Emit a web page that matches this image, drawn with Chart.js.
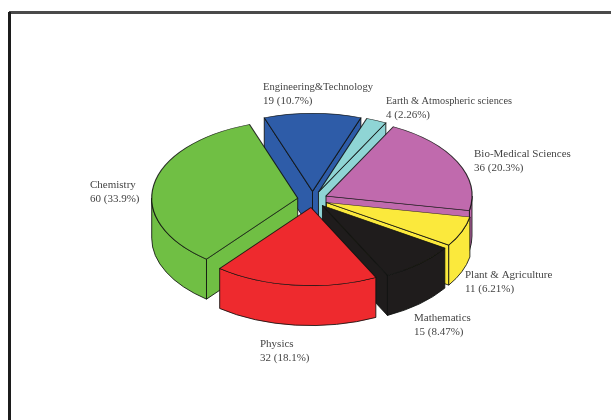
<!DOCTYPE html>
<html>
<head>
<meta charset="utf-8">
<style>
html,body{margin:0;padding:0;background:#fff;overflow:hidden}
#wrap{position:relative;width:611px;height:420px}
canvas{display:block;filter:blur(0.45px)}
</style>
<script src="https://cdn.jsdelivr.net/npm/chart.js@4"></script>
</head>
<body>
<div id="wrap"><canvas id="c" width="611" height="420"></canvas></div>
<script>
const categories = ["Engineering&Technology","Earth & Atmospheric sciences","Bio-Medical Sciences","Plant & Agriculture","Mathematics","Physics","Chemistry"];
const counts = [19,4,36,11,15,32,60];
const shares = ["19 (10.7%)","4 (2.26%)","36 (20.3%)","11 (6.21%)","15 (8.47%)","32 (18.1%)","60 (33.9%)"];
const colors = ["#2e5ca8","#8fd5d5","#c06aad","#fbe93c","#1f1c1c","#ee2a2e","#70bf44"];
const labelX = [263,386,474,465,414,260,90];
const labelY = [87,101,154,275,318,344,185];
const labelW = [110,126,99,88,57,34,47];

const SQUASH = 0.535, DEPTH = 40, CX = 312.5, CY = 199.5, EXPLODE = 15;
const EDGE = "rgba(15,18,15,0.85)";

function project(ctx, el){
  ctx.translate(CX, CY);
  ctx.scale(1, SQUASH);
  ctx.translate(-el.x, -el.y);
}
const pie3d = {
  id:"pie3d",
  beforeDraw(chart){
    const ctx = chart.ctx;
    ctx.save();
    ctx.fillStyle = "#fff";
    ctx.fillRect(0,0,chart.width,chart.height);
    ctx.fillStyle = "#4a4a4a";
    ctx.fillRect(9,11,chart.width-9,3);
    ctx.fillStyle = "#1c1c1c";
    ctx.fillRect(8,12,3,chart.height-12);
    ctx.restore();
  },
  beforeDatasetDraw(chart){
    const ctx = chart.ctx;
    const arcs = chart.getDatasetMeta(0).data;
    const d = DEPTH / SQUASH;
    const shift = a => {
      const mid = (a.startAngle+a.endAngle)/2;
      return [Math.cos(mid)*EXPLODE, Math.sin(mid)*EXPLODE];
    };
    const order = arcs.map((a,i)=>i).sort((p,q)=>{
      const m = a => Math.sin((a.startAngle+a.endAngle)/2);
      return m(arcs[p]) - m(arcs[q]);
    });
    ctx.save();
    ctx.lineJoin = "round";
    order.forEach(i=>{
      const a = arcs[i];
      const [sx,sy] = shift(a);
      const ox = a.x + sx, oy = a.y + sy;
      const R = a.outerRadius;
      const wall = build => {
        ctx.save();
        project(ctx,a);
        ctx.beginPath();
        build();
        ctx.closePath();
        ctx.restore();
        ctx.fillStyle = colors[i];
        ctx.strokeStyle = EDGE;
        ctx.lineWidth = 1;
        ctx.fill();
        ctx.stroke();
      };
      const radial = ang => wall(()=>{
        const ex = ox+Math.cos(ang)*R, ey = oy+Math.sin(ang)*R;
        ctx.moveTo(ox,oy); ctx.lineTo(ex,ey);
        ctx.lineTo(ex,ey+d); ctx.lineTo(ox,oy+d);
      });
      if (Math.cos(a.startAngle) < 0) radial(a.startAngle);
      if (Math.cos(a.endAngle) > 0) radial(a.endAngle);
      const twoPi = Math.PI*2;
      let s = a.startAngle, e = a.endAngle;
      const k = Math.floor(s/twoPi);
      s -= k*twoPi; e -= k*twoPi;
      [[0,Math.PI],[twoPi,twoPi+Math.PI]].forEach(([lo,hi])=>{
        const s2 = Math.max(s,lo), e2 = Math.min(e,hi);
        if (e2 > s2) wall(()=>{
          ctx.arc(ox,oy,R,s2,e2);
          ctx.arc(ox,oy+d,R,e2,s2,true);
        });
      });
    });
    ctx.restore();
    // slice tops: the library's own arc elements, lifted out of the pie
    arcs.forEach(a=>{
      const [sx,sy] = shift(a);
      ctx.save();
      project(ctx,a);
      ctx.translate(sx,sy);
      a.draw(ctx, chart.chartArea);
      ctx.restore();
    });
    return false;
  },
  afterDatasetsDraw(chart){
    const ctx = chart.ctx;
    ctx.save();
    ctx.font = "11px 'Liberation Serif'";
    ctx.fillStyle = "#444";
    ctx.textBaseline = "middle";
    ctx.textAlign = "left";
    categories.forEach((name,i)=>{
      ctx.fillText(name,labelX[i],labelY[i],labelW[i]);
      ctx.fillText(shares[i],labelX[i],labelY[i]+14);
    });
    ctx.restore();
  }
};
new Chart(document.getElementById("c"),{
  type:"pie",
  data:{labels:categories,datasets:[{data:counts,backgroundColor:colors,borderColor:EDGE,borderWidth:1.2,borderJoinStyle:"round"}]},
  options:{
    responsive:false,animation:false,
    rotation:-19.3,radius:146,
    layout:{padding:0},
    plugins:{legend:{display:false},tooltip:{enabled:false}}
  },
  plugins:[pie3d]
});
</script>
</body>
</html>
